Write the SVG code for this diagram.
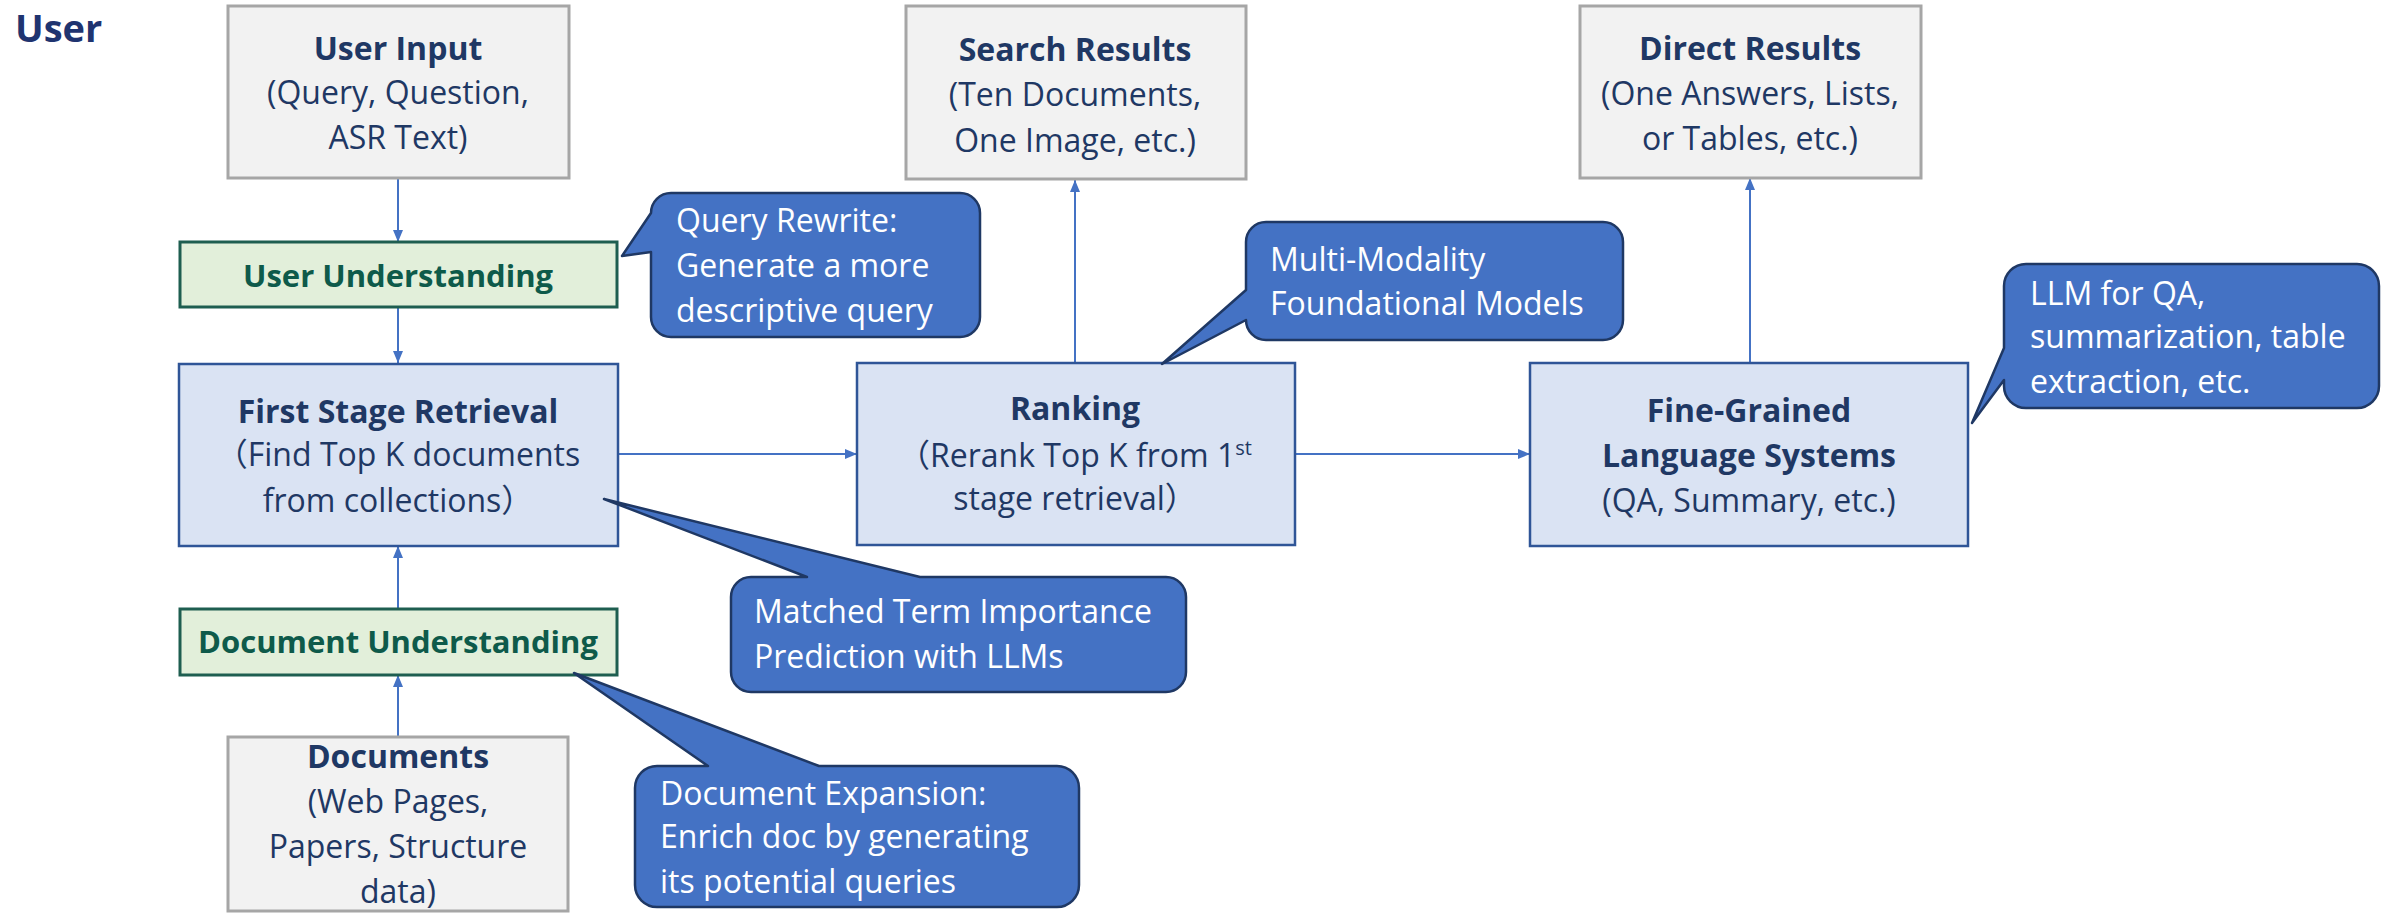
<svg xmlns="http://www.w3.org/2000/svg" width="2382" height="916" viewBox="0 0 2382 916">
  <style>
    text { font-family: "Open Sans", "Liberation Sans", "Noto Sans CJK SC", sans-serif; }
    .title { font-size: 38px; font-weight: 700; fill: #1f3470; }
    .gray { fill: #f2f2f2; stroke: #a6a6a6; stroke-width: 3; }
    .blue { fill: #dae3f3; stroke: #2f5597; stroke-width: 2.5; }
    .green { fill: #e2efda; stroke: #1e5e50; stroke-width: 3; }
    .ntext { font-size: 32px; fill: #1f3864; text-anchor: middle; }
    .b { font-weight: 700; }
    .gtext { font-size: 31px; font-weight: 700; fill: #0e5a4a; text-anchor: middle; }
    .callout { fill: #4472c4; stroke: #1f3864; stroke-width: 2.5; stroke-linejoin: round; }
    .ctext { font-size: 32px; fill: #ffffff; }
    .conn { fill: none; stroke: #4472c4; stroke-width: 2; }
  </style>
  <defs>
    <marker id="arrow" markerUnits="userSpaceOnUse" markerWidth="12" markerHeight="10" refX="12" refY="5" orient="auto">
      <path d="M0,0 L12,5 L0,10 Z" fill="#4472c4"/>
    </marker>
  </defs>

  <text class="title" x="15" y="42">User</text>

  <!-- connectors -->
  <g id="connectors">
    <line class="conn" x1="398" y1="178" x2="398" y2="242" marker-end="url(#arrow)"/>
    <line class="conn" x1="398" y1="307" x2="398" y2="363" marker-end="url(#arrow)"/>
    <line class="conn" x1="398" y1="737" x2="398" y2="675" marker-end="url(#arrow)"/>
    <line class="conn" x1="398" y1="609" x2="398" y2="546" marker-end="url(#arrow)"/>
    <line class="conn" x1="618" y1="454" x2="857" y2="454" marker-end="url(#arrow)"/>
    <line class="conn" x1="1295" y1="454" x2="1530" y2="454" marker-end="url(#arrow)"/>
    <line class="conn" x1="1075" y1="363" x2="1075" y2="180" marker-end="url(#arrow)"/>
    <line class="conn" x1="1750" y1="363" x2="1750" y2="178" marker-end="url(#arrow)"/>
  </g>

  <!-- source / result boxes -->
  <g id="user-input">
    <rect class="gray" x="228" y="6" width="341" height="172"/>
    <text class="ntext"><tspan class="b" x="398" y="60">User Input</tspan><tspan x="398" y="104">(Query, Question,</tspan><tspan x="398" y="149">ASR Text)</tspan></text>
  </g>
  <g id="search-results">
    <rect class="gray" x="906" y="6" width="340" height="173"/>
    <text class="ntext"><tspan class="b" x="1075" y="61">Search Results</tspan><tspan x="1075" y="106">(Ten Documents,</tspan><tspan x="1075" y="152">One Image, etc.)</tspan></text>
  </g>
  <g id="direct-results">
    <rect class="gray" x="1580" y="6" width="341" height="172"/>
    <text class="ntext"><tspan class="b" x="1750" y="60">Direct Results</tspan><tspan x="1750" y="105">(One Answers, Lists,</tspan><tspan x="1750" y="150">or Tables, etc.)</tspan></text>
  </g>
  <g id="documents">
    <rect class="gray" x="228" y="737" width="340" height="174"/>
    <text class="ntext"><tspan class="b" x="398" y="768">Documents</tspan><tspan x="398" y="813">(Web Pages,</tspan><tspan x="398" y="858">Papers, Structure</tspan><tspan x="398" y="903">data)</tspan></text>
  </g>

  <!-- understanding stages -->
  <g id="user-understanding">
    <rect class="green" x="180" y="242" width="437" height="65"/>
    <text class="gtext" x="398" y="287">User Understanding</text>
  </g>
  <g id="document-understanding">
    <rect class="green" x="180" y="609" width="437" height="66"/>
    <text class="gtext" x="398" y="653">Document Understanding</text>
  </g>

  <!-- pipeline stages -->
  <g id="first-stage-retrieval">
    <rect class="blue" x="179" y="364" width="439" height="182"/>
    <text class="ntext"><tspan class="b" x="398" y="423">First Stage Retrieval</tspan><tspan x="398" y="466">（Find Top K documents</tspan><tspan x="398" y="512">from collections）</tspan></text>
  </g>
  <g id="ranking">
    <rect class="blue" x="857" y="363" width="438" height="182"/>
    <text class="ntext"><tspan class="b" x="1075" y="420">Ranking</tspan><tspan x="1075" y="467">（Rerank Top K from 1<tspan font-size="20" dy="-12">st</tspan></tspan><tspan x="1075" y="510">stage retrieval）</tspan></text>
  </g>
  <g id="fine-grained">
    <rect class="blue" x="1530" y="363" width="438" height="183"/>
    <text class="ntext"><tspan class="b" x="1749" y="422">Fine-Grained</tspan><tspan class="b" x="1749" y="467">Language Systems</tspan><tspan x="1749" y="512">(QA, Summary, etc.)</tspan></text>
  </g>

  <!-- annotation callouts -->
  <g id="callout-query-rewrite">
    <path class="callout" d="M671,193 H960 A20,20 0 0 1 980,213 V317 A20,20 0 0 1 960,337 H671 A20,20 0 0 1 651,317 V252 L622,256 L651,213 A20,20 0 0 1 671,193 Z"/>
    <text class="ctext"><tspan x="676" y="232">Query Rewrite:</tspan><tspan x="676" y="277">Generate a more</tspan><tspan x="676" y="322">descriptive query</tspan></text>
  </g>
  <g id="callout-multimodal">
    <path class="callout" d="M1266,222 H1603 A20,20 0 0 1 1623,242 V320 A20,20 0 0 1 1603,340 H1266 A20,20 0 0 1 1246,320 L1162,364 L1246,290 V242 A20,20 0 0 1 1266,222 Z"/>
    <text class="ctext"><tspan x="1270" y="271">Multi-Modality</tspan><tspan x="1270" y="315">Foundational Models</tspan></text>
  </g>
  <g id="callout-llm">
    <path class="callout" d="M2026,264 H2357 A22,22 0 0 1 2379,286 V386 A22,22 0 0 1 2357,408 H2026 A22,22 0 0 1 2004,386 V380 L1972,423 L2004,348 V286 A22,22 0 0 1 2026,264 Z"/>
    <text class="ctext"><tspan x="2030" y="305">LLM for QA,</tspan><tspan x="2030" y="348">summarization, table</tspan><tspan x="2030" y="393">extraction, etc.</tspan></text>
  </g>
  <g id="callout-term-importance">
    <path class="callout" d="M751,577 H807 L604,499 L920,577 H1166 A20,20 0 0 1 1186,597 V672 A20,20 0 0 1 1166,692 H751 A20,20 0 0 1 731,672 V597 A20,20 0 0 1 751,577 Z"/>
    <text class="ctext"><tspan x="754" y="623">Matched Term Importance</tspan><tspan x="754" y="668">Prediction with LLMs</tspan></text>
  </g>
  <g id="callout-doc-expansion">
    <path class="callout" d="M657,766 H708 L574,673 L819,766 H1057 A22,22 0 0 1 1079,788 V885 A22,22 0 0 1 1057,907 H657 A22,22 0 0 1 635,885 V788 A22,22 0 0 1 657,766 Z"/>
    <text class="ctext"><tspan x="660" y="805">Document Expansion:</tspan><tspan x="660" y="848">Enrich doc by generating</tspan><tspan x="660" y="893">its potential queries</tspan></text>
  </g>
</svg>
